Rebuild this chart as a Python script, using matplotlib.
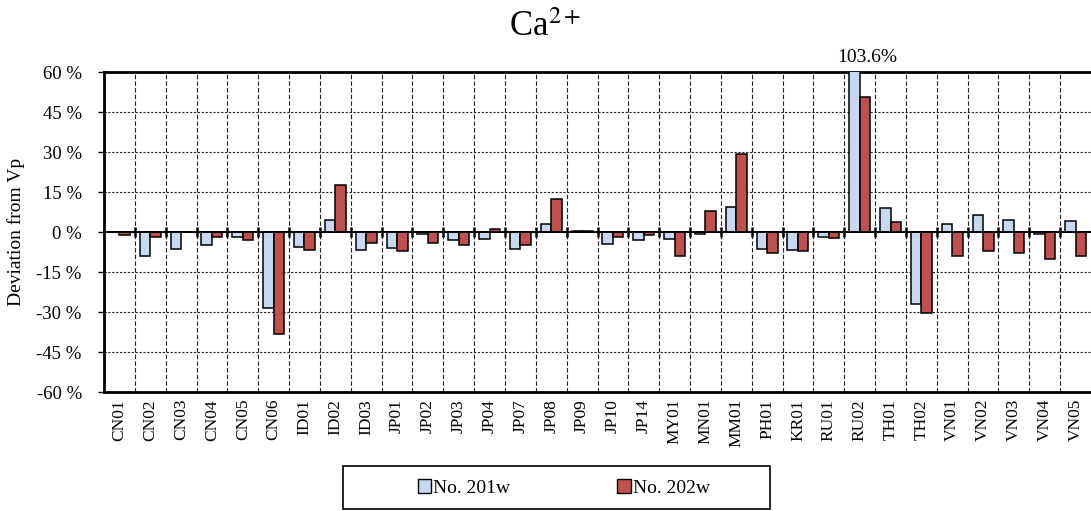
import matplotlib
matplotlib.use('Agg')
import matplotlib.pyplot as plt
from matplotlib.patches import Rectangle, Patch
import numpy as np

# data (deviation from Vp, %)
sites = ['CN01', 'CN02', 'CN03', 'CN04', 'CN05', 'CN06', 'ID01', 'ID02', 'ID03',
         'JP01', 'JP02', 'JP03', 'JP04', 'JP07', 'JP08', 'JP09', 'JP10', 'JP14',
         'MY01', 'MN01', 'MM01', 'PH01', 'KR01', 'RU01', 'RU02', 'TH01', 'TH02',
         'VN01', 'VN02', 'VN03', 'VN04', 'VN05']
dev_201w = [0.0, -9.0, -6.5, -4.9, -1.7, -28.6, -5.5, 4.6, -6.7,
            -6.0, -0.9, -3.0, -2.5, -6.5, 2.9, 0.3, -4.4, -3.1,
            -2.5, -0.8, 9.4, -6.5, -6.7, -2.0, 103.6, 8.9, -26.9,
            2.9, 6.4, 4.6, -0.9, 4.1]
dev_202w = [-1.1, -2.0, 0.0, -2.0, -3.0, -38.1, -6.9, 17.5, -4.0,
            -7.0, -4.0, -5.0, 1.0, -5.0, 12.5, 0.5, -2.0, -1.1,
            -8.9, 7.8, 29.3, -8.0, -7.0, -2.2, 50.8, 3.9, -30.5,
            -9.0, -7.0, -8.0, -10.0, -9.0]
yticks = [-60, -45, -30, -15, 0, 15, 30, 45, 60]
series_names = ['No. 201w', 'No. 202w']

plt.rcParams['font.family'] = ['Liberation Serif', 'DejaVu Serif']
plt.rcParams['mathtext.fontset'] = 'stix'

blue = '#C6D9F1'
red = '#C0504D'

fig = plt.figure(figsize=(10.91, 5.11), dpi=100)
ax = fig.add_axes([104 / 1091, 1 - 392 / 511, 987 / 1091, 320 / 511])

x = np.arange(len(sites))
w = 0.34
ax.bar(x - w / 2, dev_201w, w, color=blue, edgecolor='black', linewidth=1.1, zorder=3)
ax.bar(x + w / 2, dev_202w, w, color=red, edgecolor='black', linewidth=1.1, zorder=3)

ax.set_xlim(-0.5, len(sites) - 0.5)
ax.set_ylim(-60, 60)
ax.set_yticks(yticks)
ax.set_yticklabels(['%d %%' % v for v in yticks], fontsize=13.5)
ax.set_xticks(x)
ax.set_xticklabels(sites, rotation=90, fontsize=12.5)
ax.tick_params(axis='x', length=0, pad=5)
ax.tick_params(axis='y', length=4, width=1, direction='out', pad=12)

# grid: dashed verticals at category borders, dotted horizontals
bounds = np.arange(len(sites) + 1) - 0.5
ax.set_xticks(bounds[1:-1], minor=True)
ax.tick_params(axis='x', which='minor', length=0)
ax.grid(axis='x', which='minor', linestyle=(0, (4, 2)), color='#222222', linewidth=0.8, zorder=1)
ax.grid(axis='y', which='major', linestyle=(0, (2, 1.5)), color='#222222', linewidth=0.8, zorder=1)

# zero line with crossing tick marks
ax.axhline(0, color='black', linewidth=1.4, zorder=4)
ax.vlines(bounds[1:-1], -1.8, 1.8, color='black', linewidth=1.8, zorder=4)

for s in ['left', 'top', 'bottom']:
    ax.spines[s].set_linewidth(2)
ax.spines['right'].set_visible(False)

ax.set_ylabel('Deviation from Vp', fontsize=14, labelpad=8)

# value of the clipped bar
i = sites.index('RU02')
ax.annotate('%.1f%%' % dev_201w[i], xy=(i + 0.25, 60), xytext=(0, 4),
            textcoords='offset points', ha='center', va='bottom', fontsize=14,
            annotation_clip=False)

fig.text(545 / 1091, 1 - 27 / 511, 'Ca$^{2+}$', ha='center', va='center', fontsize=25)

# legend below with its own frame
fig.patches.append(Rectangle((343 / 1091, 1 - 509 / 511), 427 / 1091, 43 / 511,
                             transform=fig.transFigure, facecolor='white',
                             edgecolor='black', linewidth=1.2))
handles = [Patch(facecolor=blue, edgecolor='black', linewidth=1),
           Patch(facecolor=red, edgecolor='black', linewidth=1)]
fig.legend(handles, series_names, loc='center', bbox_to_anchor=(564 / 1091, 1 - 488 / 511),
           ncol=2, frameon=False, fontsize=14, handlelength=0.7, handleheight=0.7,
           handletextpad=0.1, columnspacing=5.5)

fig.savefig('out.png', dpi=100)
